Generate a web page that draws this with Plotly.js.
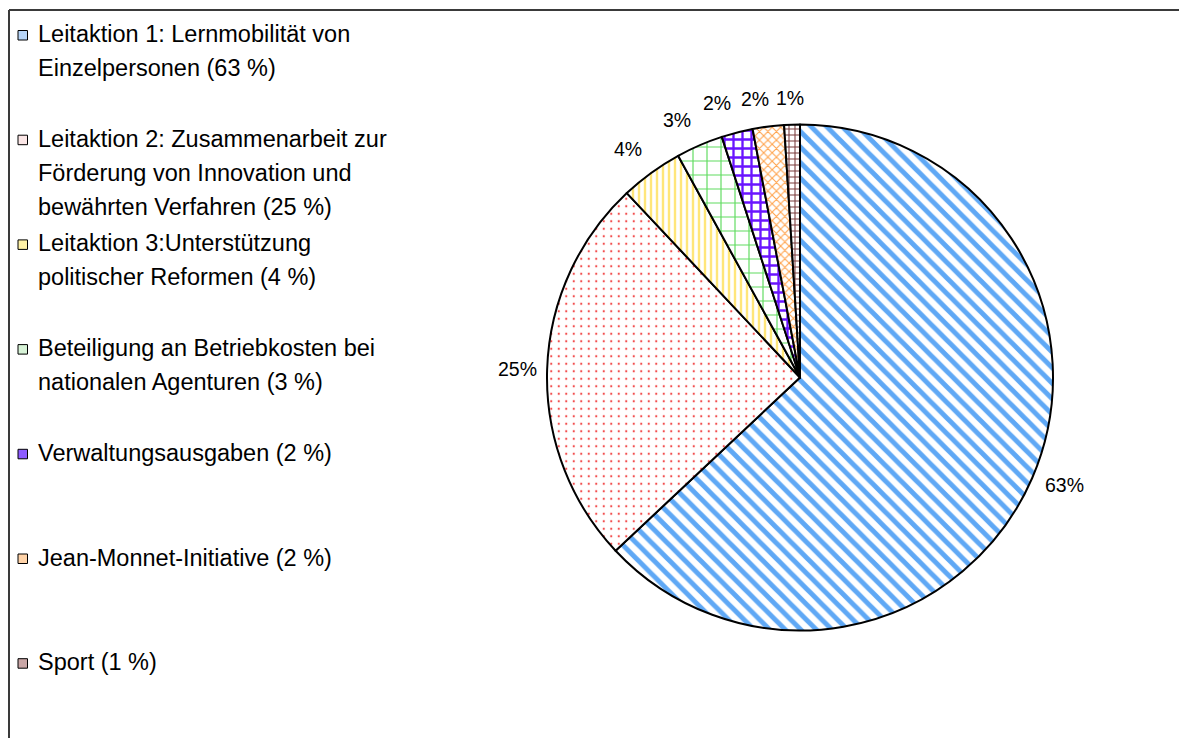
<!DOCTYPE html>
<html>
<head>
<meta charset="utf-8">
<script src="https://cdn.plot.ly/plotly-3.0.1.min.js"></script>
<style>
  html, body { margin: 0; padding: 0; background: #ffffff; }
  #chart { width: 1179px; height: 738px; }
</style>
</head>
<body>
<div id="chart"></div>
<script>
// ---- data ----
const categories = [
  "Leitaktion 1: Lernmobilität von\nEinzelpersonen (63 %)",
  "Leitaktion 2: Zusammenarbeit zur\nFörderung von Innovation und\nbewährten Verfahren (25 %)",
  "Leitaktion 3:Unterstützung\npolitischer Reformen (4 %)",
  "Beteiligung an Betriebkosten bei\nnationalen Agenturen (3 %)",
  "Verwaltungsausgaben (2 %)",
  "Jean-Monnet-Initiative (2 %)",
  "Sport (1 %)"
];
const shares = [63, 25, 4, 3, 2, 2, 1];

// ---- styles ----
const fgColors = ["#5fa8f5", "#f24b4b", "#ffe67a", "#5fdc5f", "#6a14ff", "#ffa24a", "#7a3c3c"];
const shapes = ["\\", ".", "|", "+", "+", "x", "+"];
const sizes = [11, 7.5, 6, 14, 9, 6, 6];
const solid = [0.45, 0.07, 0.4, 0.16, 0.45, 0.32, 0.32];
const swatchFill = ["#b6d4f7", "#fbe6e6", "#fff2a6", "#d7f3d7", "#8d5cff", "#ffd3a8", "#c9a6a6"];
// small nudges (px) for the outside percentage labels, as placed in the original
const labelNudgeX = [5, 0, -6, -11, -13, -10, -1];
const labelNudgeY = [-5, 0, 0, 2, 0, 2, 3];

const W = 1179, H = 738;
const px = x => x / W;
const py = y => 1 - y / H;

const pieLeft = 547, pieRight = 1053, pieTop = 124, pieBottom = 631;

const trace = {
  type: "pie",
  values: shares,
  labels: categories.map(c => c.split("\n").join(" ")),
  sort: false,
  direction: "clockwise",
  rotation: 0,
  textinfo: "none",
  hoverinfo: "label+percent",
  showlegend: false,
  domain: { x: [px(pieLeft), px(pieRight)], y: [py(pieBottom), py(pieTop)] },
  marker: {
    colors: fgColors.map(() => "#ffffff"),
    line: { color: "#000000", width: 2 },
    pattern: {
      shape: shapes,
      fgcolor: fgColors,
      bgcolor: "#ffffff",
      size: sizes,
      solidity: solid,
      fillmode: "replace"
    }
  }
};

const annotations = [];
const layoutShapes = [
  { type: "line", xref: "paper", yref: "paper", x0: px(9), x1: 1, y0: py(10), y1: py(10), line: { color: "#3a3a3a", width: 2 } },
  { type: "line", xref: "paper", yref: "paper", x0: px(9), x1: px(9), y0: py(10), y1: 0, line: { color: "#3a3a3a", width: 2 } }
];

// ---- outside percentage labels, placed from the slice angles ----
const total = shares.reduce((a, b) => a + b, 0);
const cx = (pieLeft + pieRight) / 2, cy = (pieTop + pieBottom) / 2;
const labelR = 283;
let cum = 0;
shares.forEach((v, i) => {
  const mid = (cum + v / 2) / total * 2 * Math.PI;
  cum += v;
  const lx = cx + labelR * Math.sin(mid) + labelNudgeX[i];
  const ly = cy - labelR * Math.cos(mid) + labelNudgeY[i];
  annotations.push({
    xref: "paper", yref: "paper", x: px(lx), y: py(ly),
    xanchor: "center", yanchor: "middle",
    text: Math.round(v / total * 100) + "%", showarrow: false,
    font: { family: "Liberation Sans, Arial, sans-serif", size: 19.5, color: "#000" }
  });
});

// ---- legend drawn as annotations ----
const slot = 104.7, firstY = 34, pitch = 34;
categories.forEach((cat, k) => {
  const lines = cat.split("\n");
  const y0 = firstY + k * slot;
  lines.forEach((ln, j) => {
    annotations.push({
      xref: "paper", yref: "paper",
      x: px(36), y: py(y0 + j * pitch),
      xanchor: "left", yanchor: "middle",
      text: ln, showarrow: false,
      font: { family: "Liberation Sans, Arial, sans-serif", size: 23.5, color: "#000" }
    });
  });
  layoutShapes.push({
    type: "rect", xref: "paper", yref: "paper",
    x0: px(18), x1: px(27.5), y0: py(y0 - 4.5 + 1), y1: py(y0 + 5 + 1),
    fillcolor: swatchFill[k], line: { color: "#000", width: 1 }
  });
});

const layout = {
  width: W, height: H,
  margin: { l: 0, r: 0, t: 0, b: 0, pad: 0 },
  paper_bgcolor: "#ffffff",
  showlegend: false,
  annotations: annotations,
  shapes: layoutShapes,
  font: { family: "Liberation Sans, Arial, sans-serif" }
};

Plotly.newPlot("chart", [trace], layout, { displayModeBar: false, staticPlot: true });
</script>
</body>
</html>
